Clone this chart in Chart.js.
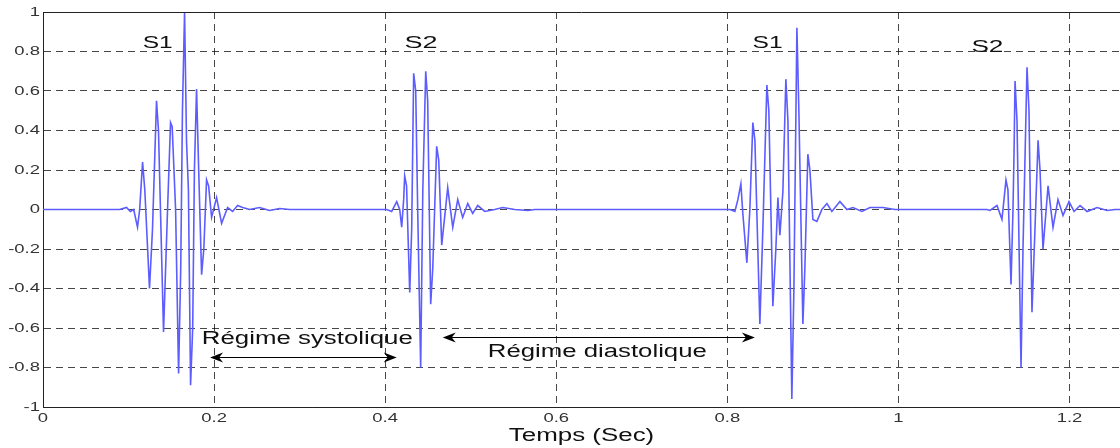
<!DOCTYPE html>
<html>
<head>
<meta charset="utf-8">
<script src="https://cdn.jsdelivr.net/npm/chart.js@4/dist/chart.umd.min.js"></script>
<style>
  html, body { margin: 0; padding: 0; background: #fff; }
  #wrap { width: 1120px; height: 448px; }
</style>
</head>
<body>
<div id="wrap"><canvas id="pcg" width="1120" height="448"></canvas></div>
<script>
// ========== DATA ==========
// First S1 burst
const s1aTime = [
  0.0895, 0.0977, 0.1020, 0.1060, 0.1105, 0.1130, 0.1164, 0.1190, 0.1245, 0.1280,
  0.1327, 0.1350, 0.1409, 0.1456, 0.1491, 0.1510, 0.1550, 0.1585, 0.1610, 0.1630,
  0.1655, 0.1678, 0.1700, 0.1725, 0.1750, 0.1770, 0.1795, 0.1820, 0.1854, 0.1880,
  0.1912, 0.1936, 0.1971, 0.2029, 0.2088, 0.2158, 0.2216, 0.2275, 0.2333, 0.2415,
  0.2532, 0.2649, 0.2766, 0.2883
];
const s1aAmp = [
  0, 0.01, -0.01, 0, -0.09, 0, 0.24, 0.10, -0.40, -0.10,
  0.55, 0.40, -0.62, 0, 0.44, 0.42, 0, -0.83, -0.30, 0.50,
  1.00, 0.34, 0.10, -0.89, -0.60, 0.20, 0.61, 0.20, -0.33, -0.20,
  0.15, 0.12, -0.04, 0.06, -0.07, 0.01, -0.01, 0.02, 0.01, 0,
  0.01, -0.005, 0.005, 0
];

// First S2 burst
const s2aTime = [
  0.4018, 0.4076, 0.4135, 0.4170, 0.4193, 0.4216, 0.4228, 0.4250, 0.4287, 0.4310,
  0.4333, 0.4357, 0.4380, 0.4415, 0.4440, 0.4474, 0.4497, 0.4532, 0.4556, 0.4602,
  0.4626, 0.4661, 0.4731, 0.4790, 0.4848, 0.4906, 0.4965, 0.5023, 0.5082, 0.5164,
  0.5280, 0.5374, 0.5515, 0.5667, 0.5750
];
const s2aAmp = [
  0, -0.01, 0.04, 0, -0.09, 0.05, 0.17, 0.12, -0.42, -0.10,
  0.69, 0.60, 0, -0.80, 0.10, 0.70, 0.55, -0.48, -0.30, 0.32,
  0.25, -0.18, 0.11, -0.09, 0.05, -0.04, 0.03, -0.02, 0.02, -0.01,
  0, 0.01, 0, -0.005, 0
];

// Second S1 burst
const s1bTime = [
  0.7970, 0.8029, 0.8088, 0.8123, 0.8158, 0.8181, 0.8228, 0.8263, 0.8298, 0.8322,
  0.8380, 0.8415, 0.8462, 0.8485, 0.8532, 0.8567, 0.8591, 0.8614, 0.8649, 0.8684,
  0.8708, 0.8754, 0.8778, 0.8813, 0.8836, 0.8883, 0.8906, 0.8941, 0.8965, 0.9000,
  0.9047, 0.9105, 0.9164, 0.9222, 0.9316, 0.9398, 0.9468, 0.9573, 0.9667, 0.9819,
  0.9959
];
const s1bAmp = [
  0, 0, -0.01, 0.05, 0.13, -0.02, -0.27, 0, 0.44, 0.35,
  -0.58, -0.10, 0.63, 0.50, -0.49, -0.20, 0.06, -0.13, 0.09, 0.66,
  0.45, -0.96, -0.40, 0.92, 0.50, -0.58, -0.30, 0.28, 0.20, -0.05,
  -0.06, 0, 0.03, -0.01, 0.04, 0, 0.01, -0.01, 0.01, 0.01,
  0
];

// Second S2 burst
const s2bTime = [
  1.1035, 1.1070, 1.1152, 1.1210, 1.1234, 1.1257, 1.1280, 1.1316, 1.1339, 1.1351,
  1.1363, 1.1386, 1.1433, 1.1456, 1.1503, 1.1526, 1.1561, 1.1596, 1.1632, 1.1655,
  1.1690, 1.1749, 1.1807, 1.1865, 1.1924, 1.1994, 1.2053, 1.2123, 1.2205, 1.2322,
  1.2439, 1.2532, 1.2590
];
const s2bAmp = [
  0, -0.005, 0.02, -0.05, 0.05, 0.15, 0.10, -0.38, 0, 0.28,
  0.65, 0.45, -0.80, -0.20, 0.72, 0.50, -0.52, -0.10, 0.35, 0.20,
  -0.20, 0.12, -0.09, 0.05, -0.03, 0.04, -0.01, 0.02, -0.01, 0.01,
  -0.005, 0, 0
];

const xTickValues = [0, 0.2, 0.4, 0.6, 0.8, 1, 1.2];
const yTickValues = [-1, -0.8, -0.6, -0.4, -0.2, 0, 0.2, 0.4, 0.6, 0.8, 1];
const xTitle = 'Temps (Sec)';

// ========== ANNOTATIONS ==========
const notes = [
  { text: 'S1', x: 0.134, y: 0.82, size: 16, width: 30 },
  { text: 'S2', x: 0.442, y: 0.818, size: 16, width: 33 },
  { text: 'S1', x: 0.847, y: 0.818, size: 16, width: 30 },
  { text: 'S2', x: 1.104, y: 0.80, size: 16, width: 32 },
  { text: 'Régime systolique', x: 0.309, y: -0.681, size: 18, width: 211 },
  { text: 'Régime diastolique', x: 0.648, y: -0.747, size: 18, width: 219 }
];
const arrows = [
  { from: 0.1953, to: 0.4135, y: -0.747 },
  { from: 0.4673, to: 0.8322, y: -0.646 }
];

const FONT = '"Liberation Sans", Arial, sans-serif';
const AXIS_COLOR = '#222';
const STRETCH = 1.42;

function toPoints(times, amps) {
  return times.map((t, i) => ({ x: t, y: amps[i] }));
}

// text in the reference is widened horizontally, so draw it scaled
function stretchText(ctx, text, x, y, size, sx, align, baseline, color) {
  ctx.save();
  ctx.font = size + 'px ' + FONT;
  ctx.textBaseline = baseline;
  ctx.textAlign = 'left';
  const w = ctx.measureText(text).width * sx;
  const left = align === 'center' ? x - w / 2 : align === 'right' ? x - w : x;
  ctx.translate(left, y);
  ctx.scale(sx, 1);
  ctx.fillStyle = color || '#111';
  ctx.fillText(text, 0, 0);
  ctx.restore();
}

function arrowHead(ctx, tx, ty, dir) {
  ctx.beginPath();
  ctx.moveTo(tx, ty);
  ctx.lineTo(tx - dir * 13, ty - 5);
  ctx.lineTo(tx - dir * 9, ty);
  ctx.lineTo(tx - dir * 13, ty + 5);
  ctx.closePath();
  ctx.fill();
}

const overlay = {
  id: 'overlay',
  afterDraw(chart) {
    const { ctx, chartArea: a, scales: { x, y } } = chart;
    ctx.save();
    ctx.strokeStyle = AXIS_COLOR;
    ctx.lineWidth = 1;
    ctx.beginPath();
    ctx.moveTo(a.left, Math.round(a.top) + 0.5);
    ctx.lineTo(a.right, Math.round(a.top) + 0.5);
    ctx.stroke();
    ctx.restore();

    xTickValues.forEach(v => stretchText(ctx, String(v), x.getPixelForValue(v), a.bottom + 15, 13, STRETCH, 'center', 'alphabetic', '#333'));
    yTickValues.forEach(v => stretchText(ctx, String(v), a.left - 3, y.getPixelForValue(v), 13, STRETCH, 'right', 'middle', '#333'));
    stretchText(ctx, xTitle, (a.left + a.right) / 2, 441, 18, 1.44, 'center', 'alphabetic');

    notes.forEach(n => {
      ctx.save();
      ctx.font = n.size + 'px ' + FONT;
      const sx = n.width / ctx.measureText(n.text).width;
      ctx.restore();
      stretchText(ctx, n.text, x.getPixelForValue(n.x), y.getPixelForValue(n.y), n.size, sx, 'center', 'alphabetic');
    });

    ctx.save();
    ctx.strokeStyle = '#000';
    ctx.fillStyle = '#000';
    ctx.lineWidth = 1;
    arrows.forEach(ar => {
      const x1 = x.getPixelForValue(ar.from);
      const x2 = x.getPixelForValue(ar.to);
      const py = Math.round(y.getPixelForValue(ar.y)) + 0.5;
      ctx.beginPath();
      ctx.moveTo(x1 + 6, py);
      ctx.lineTo(x2 - 6, py);
      ctx.stroke();
      arrowHead(ctx, x1, py, -1);
      arrowHead(ctx, x2, py, 1);
    });
    ctx.restore();
  }
};

// ========== CHART ==========
function initHeartChart() {
  const el = document.getElementById('pcg');
  const signal = [{ x: 0, y: 0 }].concat(
    toPoints(s1aTime, s1aAmp),
    toPoints(s2aTime, s2aAmp),
    toPoints(s1bTime, s1bAmp),
    toPoints(s2bTime, s2bAmp)
  );

  new Chart(el.getContext('2d'), {
    type: 'line',
    data: {
      datasets: [{
        data: signal,
        borderColor: '#5c5cff',
        borderWidth: 1.6,
        pointRadius: 0,
        tension: 0,
        fill: false
      }]
    },
    options: {
      responsive: false,
      animation: false,
      devicePixelRatio: 1,
      layout: { padding: { top: 12, left: 0, right: 0, bottom: 0 } },
      plugins: { legend: { display: false }, tooltip: { enabled: false } },
      scales: {
        x: {
          type: 'linear',
          min: 0,
          max: 1.259,
          afterBuildTicks: s => { s.ticks = xTickValues.map(v => ({ value: v })); },
          afterFit: s => { s.height = 41; },
          ticks: { display: false },
          grid: { color: 'rgba(0,0,0,0.72)', lineWidth: 1, drawTicks: false },
          border: { display: true, color: AXIS_COLOR, width: 1, dash: [7, 5] }
        },
        y: {
          min: -1,
          max: 1,
          afterBuildTicks: s => { s.ticks = yTickValues.map(v => ({ value: v })); },
          afterFit: s => { s.width = 43; },
          ticks: { display: false },
          grid: { color: 'rgba(0,0,0,0.72)', lineWidth: 1, drawTicks: false },
          border: { display: true, color: AXIS_COLOR, width: 1, dash: [7, 5] }
        }
      }
    },
    plugins: [overlay]
  });
}

document.addEventListener('DOMContentLoaded', initHeartChart);
</script>
</body>
</html>
